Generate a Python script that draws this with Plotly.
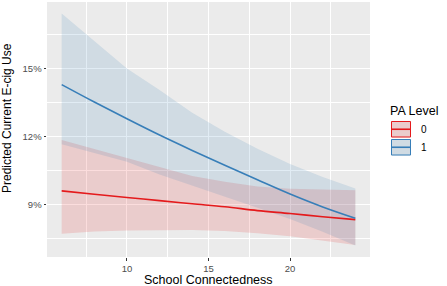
import plotly.graph_objects as go

# School connectedness values
x_vals = [6, 8, 10, 12, 14, 16, 18, 20, 22, 24]

# PA Level 0 (red)
pa0_fit = [9.59, 9.44, 9.30, 9.16, 9.02, 8.89, 8.72, 8.59, 8.45, 8.32]
pa0_upper = [11.84, 11.45, 11.06, 10.66, 10.25, 10.00, 9.78, 9.68, 9.64, 9.62]
pa0_lower = [7.70, 7.80, 7.84, 7.86, 7.86, 7.82, 7.72, 7.58, 7.40, 7.20]

# PA Level 1 (blue)
pa1_fit = [14.29, 13.52, 12.78, 12.06, 11.38, 10.72, 10.08, 9.45, 8.88, 8.38]
pa1_upper = [17.43, 16.20, 15.00, 14.05, 13.05, 12.20, 11.45, 10.78, 10.20, 9.70]
pa1_lower = [11.65, 11.25, 10.88, 10.32, 9.85, 9.35, 8.85, 8.35, 7.78, 7.18]

legend_labels = ["0", "1"]
y_ticks = [9, 12, 15]
x_ticks = [10, 15, 20]

RED = "#E41A1C"
BLUE = "#377EB8"
RED_FILL = "rgba(228,26,28,0.15)"
BLUE_FILL = "rgba(55,126,184,0.15)"
FONT = "Liberation Sans, Arial"

fig = go.Figure()

series = [
    (pa0_fit, pa0_upper, pa0_lower, RED, RED_FILL),
    (pa1_fit, pa1_upper, pa1_lower, BLUE, BLUE_FILL),
]

for fit, up, lo, col, fill in series:
    fig.add_trace(go.Scatter(
        x=x_vals + x_vals[::-1], y=up + lo[::-1],
        fill="toself", fillcolor=fill, line=dict(width=0),
        mode="lines", hoverinfo="skip", showlegend=False))

for fit, up, lo, col, fill in series:
    fig.add_trace(go.Scatter(
        x=x_vals, y=fit, mode="lines", line=dict(color=col, width=1.6, shape="spline"),
        showlegend=False))

xmin, xmax = min(x_vals), max(x_vals)
xr = xmax - xmin
ymin = min(pa0_lower + pa1_lower)
ymax = max(pa0_upper + pa1_upper)
yr = ymax - ymin

L, R, T, B = 47, 77, 2, 29
W, H = 447, 286
pw, ph = W - L - R, H - T - B


def px(x):
    return (x - L) / pw


def py(y):
    return (H - B - y) / ph


shapes = []
annotations = [
    dict(x=px(388), y=py(111), xref="paper", yref="paper", text="PA Level",
         showarrow=False, xanchor="left", yanchor="middle",
         font=dict(size=12.5, color="black", family=FONT)),
    dict(x=px(208.5), y=py(280), xref="paper", yref="paper", text="School Connectedness",
         showarrow=False, xanchor="center", yanchor="middle",
         font=dict(size=12.5, color="black", family=FONT)),
    dict(x=px(7), y=py(118), xref="paper", yref="paper", text="Predicted Current E-cig Use",
         showarrow=False, xanchor="center", yanchor="middle", textangle=-90,
         font=dict(size=12, color="black", family=FONT)),
]
for i, (lab, col, fill) in enumerate(zip(legend_labels, [RED, BLUE], [RED_FILL, BLUE_FILL])):
    top = 121 + i * 18
    bot = top + 16.5
    shapes.append(dict(type="rect", xref="paper", yref="paper",
                       x0=px(391), x1=px(411), y0=py(bot), y1=py(top),
                       fillcolor="#EBEBEB", line=dict(width=0)))
    shapes.append(dict(type="rect", xref="paper", yref="paper",
                       x0=px(391.5), x1=px(410.5), y0=py(bot - 0.5), y1=py(top + 0.5),
                       fillcolor=fill, line=dict(color=col, width=1)))
    shapes.append(dict(type="line", xref="paper", yref="paper",
                       x0=px(392), x1=px(410), y0=py((top + bot) / 2), y1=py((top + bot) / 2),
                       line=dict(color=col, width=1.6)))
    annotations.append(dict(x=px(418.5), y=py((top + bot) / 2), xref="paper", yref="paper",
                            text=lab, showarrow=False, xanchor="left", yanchor="middle",
                            font=dict(size=10, color="black", family=FONT)))

fig.update_layout(
    width=W, height=H,
    margin=dict(l=L, r=R, t=T, b=B),
    paper_bgcolor="white", plot_bgcolor="#EBEBEB",
    showlegend=False,
    shapes=shapes, annotations=annotations,
    font=dict(family=FONT, color="black"),
    xaxis=dict(
        range=[xmin - 0.05 * xr, xmax + 0.05 * xr],
        tickvals=x_ticks, ticktext=[str(v) for v in x_ticks],
        showgrid=True, gridcolor="white", gridwidth=1.1,
        minor=dict(dtick=2.5, tick0=0, showgrid=True, gridcolor="white", gridwidth=0.5),
        zeroline=False, ticks="outside", ticklen=2.5, tickcolor="#333333", tickwidth=1,
        tickfont=dict(size=9.5, color="#4D4D4D"),
        automargin=False, showline=False,
    ),
    yaxis=dict(
        range=[ymin - 0.05 * yr, ymax + 0.05 * yr],
        tickvals=y_ticks, ticktext=[f"{v}%" for v in y_ticks],
        showgrid=True, gridcolor="white", gridwidth=1.1,
        minor=dict(dtick=1.5, tick0=0, showgrid=True, gridcolor="white", gridwidth=0.5),
        zeroline=False, ticks="outside", ticklen=2.5, tickcolor="#333333", tickwidth=1,
        tickfont=dict(size=9.5, color="#4D4D4D"),
        automargin=False, showline=False,
    ),
)

fig.write_html("out.html", config={"displayModeBar": False},
               post_script="document.body.style.margin='0';document.body.style.overflow='hidden';")
